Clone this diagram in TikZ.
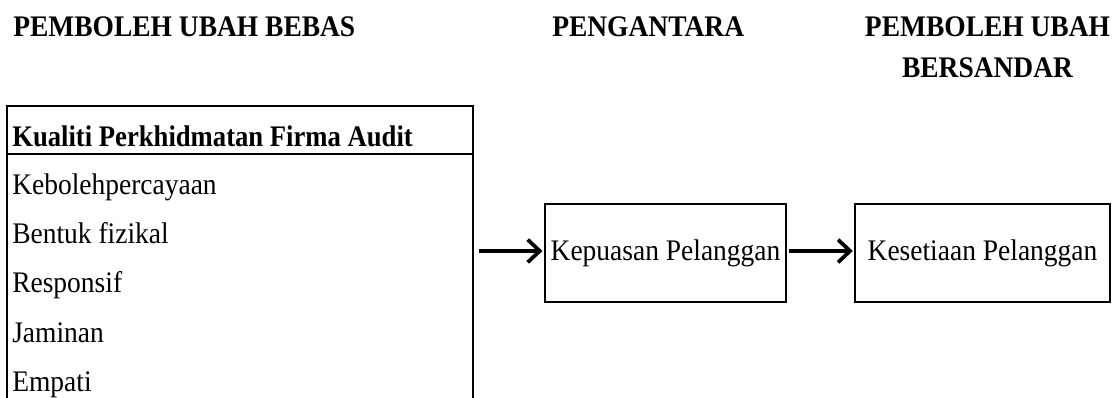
\documentclass[tikz,border=0pt]{standalone}
\usepackage{fontspec}
\setmainfont{Liberation Serif}[FakeStretch=0.92]
\usetikzlibrary{arrows.meta}
\newcommand{\fsz}{\fontsize{22.4}{26}\selectfont}
\begin{document}
\begin{tikzpicture}[x=0.75pt,y=-0.75pt,
  txt/.style={font=\fsz, inner sep=0pt, anchor=base west},
  ttl/.style={font=\fsz\bfseries, inner sep=0pt},
  boxline/.style={line width=1.6pt},
  midbox/.style={draw, line width=1.6pt, minimum width=181pt, minimum height=73.5pt, inner sep=0pt, font=\fsz},
  rbox/.style={draw, line width=1.6pt, minimum width=191pt, minimum height=73.5pt, inner sep=0pt, font=\fsz},
  conn/.style={line width=2.8pt, -{Straight Barb[length=9pt,width=17pt,line width=2.8pt]}}]
\useasboundingbox (0,0) rectangle (1114,398);
% titles
\node[ttl, anchor=base west] (t1) at (13,37) {PEMBOLEH UBAH BEBAS};
\node[ttl, anchor=base west] (t2) at (552,37) {PENGANTARA};
\node[ttl, anchor=base] (t3) at (987.5,37) {PEMBOLEH UBAH};
\node[ttl, anchor=base] (t4) at (987.5,78) {BERSANDAR};
% left box
\draw[boxline] (7,399) -- (7,106) -- (473,106) -- (473,399);
\draw[boxline] (7,154) -- (473,154);
\node[txt, font=\fsz\bfseries] (h) at (12,147) {\scalebox{0.97}[1]{Kualiti Perkhidmatan Firma Audit}};
\node[txt] (r1) at (12,195) {Kebolehpercayaan};
\node[txt] (r2) at (12,244) {Bentuk fizikal};
\node[txt] (r3) at (12,293) {Responsif};
\node[txt] (r4) at (12,343) {Jaminan};
\node[txt] (r5) at (12,392) {Empati};
% boxes
\node[midbox] (m) at (665.5,253) {Kepuasan Pelanggan};
\node[rbox] (k) at (982.5,253) {Kesetiaan Pelanggan};
\coordinate (s) at (479,251);
% arrows
\draw[conn] (s) -- ([xshift=-1pt]m.west |- s);
\draw[conn] ([xshift=1.5pt]m.east |- s) -- ([xshift=-1pt]k.west |- s);
\end{tikzpicture}
\end{document}
